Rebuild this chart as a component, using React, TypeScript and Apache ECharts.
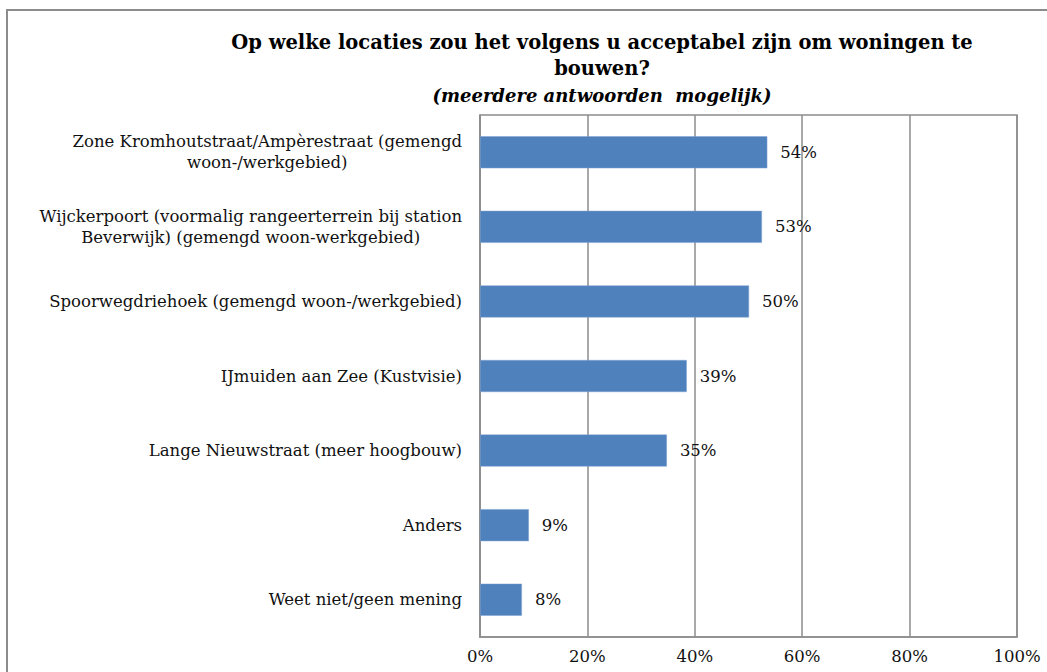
import React, { useEffect, useRef } from "react";
import * as echarts from "echarts";

const titleLines = [
  "Op welke locaties zou het volgens u acceptabel zijn om woningen te",
  "bouwen?",
];
const subtitle = "(meerdere antwoorden  mogelijk)";

const categories = [
  "Zone Kromhoutstraat/Ampèrestraat (gemengd\nwoon-/werkgebied)",
  "Wijckerpoort (voormalig rangeerterrein bij station\nBeverwijk) (gemengd woon-werkgebied)",
  "Spoorwegdriehoek (gemengd woon-/werkgebied)",
  "IJmuiden aan Zee (Kustvisie)",
  "Lange Nieuwstraat (meer hoogbouw)",
  "Anders",
  "Weet niet/geen mening",
];
const values = [53.5, 52.5, 50.1, 38.5, 34.8, 9.1, 7.8];
const xTicks = [0, 20, 40, 60, 80, 100];

const SERIF = "'DejaVu Serif', 'Liberation Serif', serif";

export default function App() {
  const ref = useRef<HTMLDivElement>(null);
  useEffect(() => {
    if (!ref.current) return;
    const chart = echarts.init(ref.current, null, { renderer: "svg" });
    chart.setOption({
      animation: false,
      backgroundColor: "#ffffff",
      graphic: [
        {
          type: "rect",
          shape: { x: 7, y: 10, width: 1200, height: 800 },
          style: { fill: "none", stroke: "#8c8c8c", lineWidth: 2 },
          silent: true,
        },
        {
          type: "text",
          x: 602,
          y: 42,
          style: {
            text: titleLines[0],
            font: `bold 19.5px ${SERIF}`,
            fill: "#000",
            align: "center",
            verticalAlign: "middle",
          },
        },
        {
          type: "text",
          x: 602,
          y: 68,
          style: {
            text: titleLines[1],
            font: `bold 19.5px ${SERIF}`,
            fill: "#000",
            align: "center",
            verticalAlign: "middle",
          },
        },
        {
          type: "text",
          x: 602,
          y: 95,
          style: {
            text: subtitle,
            font: `italic bold 18px ${SERIF}`,
            fill: "#000",
            align: "center",
            verticalAlign: "middle",
          },
        },
      ],
      grid: {
        left: 480,
        right: 30,
        top: 115,
        bottom: 35,
        show: true,
        borderColor: "#8c8c8c",
        borderWidth: 1.5,
        backgroundColor: "transparent",
      },
      xAxis: {
        type: "value",
        min: 0,
        max: 100,
        interval: 20,
        axisLine: { show: true, lineStyle: { color: "#8c8c8c", width: 1.5 } },
        axisTick: { show: false },
        splitLine: { show: true, lineStyle: { color: "#8c8c8c", width: 1.5 } },
        axisLabel: {
          formatter: (v: number) => (xTicks.includes(v) ? `${v}%` : ""),
          fontFamily: SERIF,
          fontSize: 16.5,
          color: "#111",
          margin: 11,
        },
      },
      yAxis: {
        type: "category",
        data: categories,
        inverse: true,
        axisLine: { show: true, lineStyle: { color: "#8c8c8c", width: 1.5 } },
        axisTick: { show: false },
        axisLabel: {
          align: "right",
          margin: 18,
          fontFamily: SERIF,
          fontSize: 16.5,
          color: "#111",
          lineHeight: 21,
          formatter: (v: string) =>
            v
              .split("\n")
              .map((l) => `{c|${l}}`)
              .join("\n"),
          rich: {
            c: {
              align: "center",
              fontFamily: SERIF,
              fontSize: 16.5,
              color: "#111",
              lineHeight: 21,
            },
          },
        },
      },
      series: [
        {
          type: "bar",
          data: values,
          barWidth: 32,
          itemStyle: { color: "#4f81bd", borderColor: "#7ea3d3", borderWidth: 0.5 },
          label: {
            show: true,
            position: "right",
            distance: 13,
            formatter: (p: any) => `${Math.round(p.value)}%`,
            fontFamily: SERIF,
            fontSize: 16.5,
            color: "#111",
          },
        },
      ],
    });
    return () => chart.dispose();
  }, []);
  return (
    <div
      ref={ref}
      style={{ position: "fixed", left: 0, top: 0, width: 1047, height: 672 }}
    />
  );
}
